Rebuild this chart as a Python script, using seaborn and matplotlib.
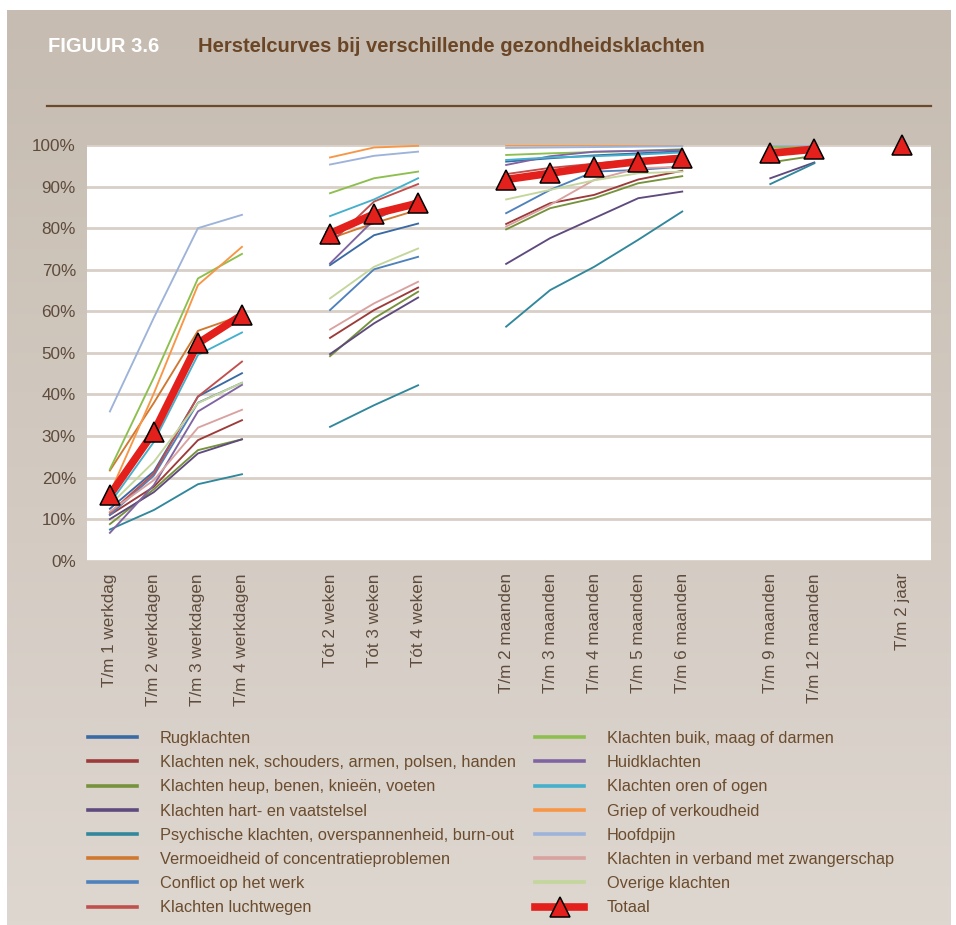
import numpy as np
import pandas as pd
import matplotlib
matplotlib.use('Agg')
import matplotlib.pyplot as plt
from matplotlib.lines import Line2D
import seaborn as sns

nan = np.nan

# categories (x slots, with empty slots between the groups)
periods = ['T/m 1 werkdag', 'T/m 2 werkdagen', 'T/m 3 werkdagen', 'T/m 4 werkdagen',
           'Tót 2 weken', 'Tót 3 weken', 'Tót 4 weken',
           'T/m 2 maanden', 'T/m 3 maanden', 'T/m 4 maanden', 'T/m 5 maanden', 'T/m 6 maanden',
           'T/m 9 maanden', 'T/m 12 maanden', 'T/m 2 jaar']
slots = [0, 1, 2, 3, 5, 6, 7, 9, 10, 11, 12, 13, 15, 16, 18]
segment = [0, 0, 0, 0, 1, 1, 1, 2, 2, 2, 2, 2, 3, 3, 4]

# percentage recovered
rug = [12.5, 21.5, 39.5, 45.1, 71.1, 78.3, 81.1, 96.0, 96.8, 97.5, 98.0, 98.5, 99.0, 99.6, nan]
nek = [11.0, 17.8, 29.0, 33.8, 53.6, 60.3, 65.7, 81.0, 86.0, 88.0, 91.7, 93.8, 97.5, 98.8, nan]
heup = [8.8, 17.2, 26.6, 29.2, 49.2, 58.3, 64.7, 79.7, 84.8, 87.2, 90.8, 92.5, 95.8, 97.4, nan]
hart = [10.0, 16.5, 25.8, 29.2, 49.7, 57.1, 63.3, 71.4, 77.6, 82.4, 87.2, 88.8, 92.0, 95.8, nan]
psych = [7.5, 12.2, 18.4, 20.8, 32.2, 37.4, 42.2, 56.3, 65.1, 70.7, 77.2, 84.0, 90.6, 95.6, nan]
vermoeid = [21.7, 38.0, 55.3, 59.0, 77.5, 81.2, 84.4, 92.0, 93.5, 95.0, 96.0, 97.0, 98.0, 99.0, nan]
conflict = [11.0, 20.5, 38.0, 42.8, 60.3, 70.1, 73.1, 83.6, 89.2, 93.6, 94.0, 94.8, 98.0, 99.0, nan]
lucht = [11.5, 21.0, 39.5, 47.9, 76.3, 86.4, 90.6, 93.0, 94.5, 95.5, 96.5, 97.5, 98.5, 99.2, nan]
buik = [22.0, 44.1, 67.9, 73.8, 88.4, 92.0, 93.6, 97.6, 98.0, 98.3, 98.6, 99.0, 99.5, 99.8, nan]
huid = [6.7, 18.2, 35.9, 42.3, 71.5, 82.0, 87.0, 95.2, 97.3, 98.4, 98.6, 98.8, 99.0, 99.5, nan]
oren = [13.8, 28.6, 49.5, 54.9, 82.9, 86.9, 92.0, 96.4, 97.0, 97.3, 97.7, 98.2, 99.0, 99.5, nan]
griep = [16.2, 40.3, 66.3, 75.5, 97.0, 99.4, 99.8, 99.9, 99.9, 100, 100, 100, 100, 100, nan]
hoofd = [35.9, 58.5, 80.0, 83.2, 95.3, 97.4, 98.4, 99.3, 99.4, 99.5, 99.6, 99.7, 100, 100, nan]
zwanger = [11.8, 19.4, 32.0, 36.3, 55.6, 61.9, 67.1, 80.4, 85.6, 91.6, 94.4, 94.8, 99.0, 99.5, nan]
overig = [13.4, 23.8, 37.9, 42.8, 63.1, 70.7, 75.1, 86.9, 89.2, 91.5, 93.2, 93.6, 98.5, 99.3, nan]
totaal = [15.8, 31.0, 52.3, 59.1, 78.7, 83.4, 86.0, 91.7, 93.2, 94.8, 96.0, 96.8, 98.0, 99.0, 100.0]

series = {
    'Rugklachten': (rug, '#3A6AA6'),
    'Klachten nek, schouders, armen, polsen, handen': (nek, '#9C3B39'),
    'Klachten heup, benen, knieën, voeten': (heup, '#76923C'),
    'Klachten hart- en vaatstelsel': (hart, '#5F4A7E'),
    'Psychische klachten, overspannenheid, burn-out': (psych, '#31879C'),
    'Vermoeidheid of concentratieproblemen': (vermoeid, '#D0782F'),
    'Conflict op het werk': (conflict, '#4F81BD'),
    'Klachten luchtwegen': (lucht, '#C0504D'),
    'Klachten buik, maag of darmen': (buik, '#8DBF4E'),
    'Huidklachten': (huid, '#8064A2'),
    'Klachten oren of ogen': (oren, '#44B0CC'),
    'Griep of verkoudheid': (griep, '#F79646'),
    'Hoofdpijn': (hoofd, '#9DB3D9'),
    'Klachten in verband met zwangerschap': (zwanger, '#D9A2A0'),
    'Overige klachten': (overig, '#C3D69B'),
}
tot_color = '#E3201B'

rows = []
for name, (vals, col) in series.items():
    for s, seg, v in zip(slots, segment, vals):
        rows.append({'series': name, 'slot': s, 'segment': seg, 'value': v})
df = pd.DataFrame(rows).dropna()
df_tot = pd.DataFrame({'slot': slots, 'segment': segment, 'value': totaal})
palette = {k: v[1] for k, v in series.items()}

W, H = 956, 925
fig = plt.figure(figsize=(W / 100, H / 100), dpi=100, facecolor='white')

# beige gradient panel behind everything
bg = fig.add_axes([7 / W, 0, 943 / W, 915 / H])
top_c = np.array([198, 188, 177]) / 255
bot_c = np.array([222, 215, 208]) / 255
t = np.linspace(0, 1, 256)[:, None, None]
grad = top_c * (1 - t) + bot_c * t
bg.imshow(grad, aspect='auto', extent=(0, 1, 0, 1))
bg.set_axis_off()
bg.set_zorder(-5)

ax = fig.add_axes([87 / W, 1 - 560.7 / H, (931 - 87) / W, (560.7 - 145) / H])
ax.set_facecolor('white')

sns.lineplot(data=df, x='slot', y='value', hue='series', units='segment', estimator=None,
             palette=palette, linewidth=1.35, legend=False, ax=ax, sort=False)
sns.lineplot(data=df_tot, x='slot', y='value', units='segment', estimator=None,
             color=tot_color, linewidth=5.5, marker='^', markersize=14,
             markeredgecolor='black', markeredgewidth=1.1, clip_on=False,
             zorder=6, ax=ax, sort=False)

ax.set_xlim(-0.52, 18.65)
ax.set_ylim(0, 100)
ax.set_yticks(range(0, 101, 10))
ax.set_yticklabels([f'{v}%' for v in range(0, 101, 10)])
ax.set_xticks(slots)
ax.set_xticklabels(periods, rotation=90)
ax.set_xlabel('')
ax.set_ylabel('')
ax.yaxis.grid(True, color='#D8CFC6', linewidth=2)
ax.xaxis.grid(False)
ax.set_axisbelow(True)
for sp in ax.spines.values():
    sp.set_visible(False)
tick_col = '#5E4B3C'
ax.tick_params(axis='both', length=0, colors=tick_col, labelsize=12.3)
ax.tick_params(axis='y', pad=8)
ax.tick_params(axis='x', pad=9)
for lab in ax.get_xticklabels() + ax.get_yticklabels():
    lab.set_fontfamily(['Liberation Sans', 'DejaVu Sans'])

# title bar
fig.text(48 / W, 1 - 47 / H, 'FIGUUR 3.6', color='white', fontsize=14.5, fontweight='bold',
         family=['Liberation Sans', 'DejaVu Sans'], va='center', ha='left')
fig.text(198 / W, 1 - 47 / H, 'Herstelcurves bij verschillende gezondheidsklachten',
         color='#6B4626', fontsize=14.5, fontweight='bold',
         family=['Liberation Sans', 'DejaVu Sans'], va='center', ha='left')
fig.add_artist(Line2D([47 / W, 931 / W], [1 - 106 / H, 1 - 106 / H], color='#6B4A2B',
                      linewidth=1.6, transform=fig.transFigure))

# legend in two columns
names = list(series.keys())
handles = [Line2D([], [], color=palette[n], linewidth=2.6) for n in names]
handles.append(Line2D([], [], color=tot_color, linewidth=5.5, marker='^', markersize=14,
                      markeredgecolor='black', markeredgewidth=1.1))
labels = names + ['Totaal']
leg_kw = dict(frameon=False, loc='upper left', borderpad=0, borderaxespad=0,
              handlelength=3.0, handletextpad=1.4, labelspacing=0.56,
              prop={'family': ['Liberation Sans', 'DejaVu Sans'], 'size': 11.8},
              labelcolor='#6B4C2E')
leg1 = fig.legend(handles[:8], labels[:8], bbox_to_anchor=(88 / W, 1 - 731 / H), **leg_kw)
leg2 = fig.legend(handles[8:], labels[8:], bbox_to_anchor=(535 / W, 1 - 731 / H), **leg_kw)

fig.savefig('out.png', dpi=100, facecolor='white')
